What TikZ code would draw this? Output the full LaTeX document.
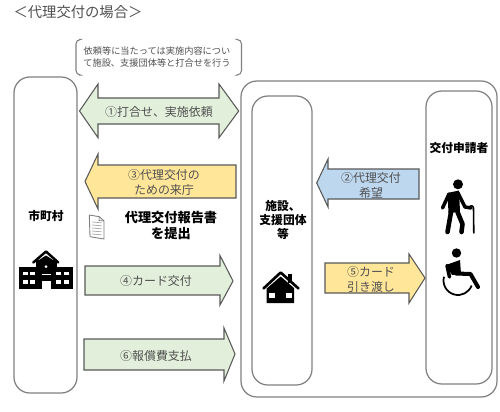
\documentclass[tikz,border=0pt]{standalone}
\usepackage{fontspec}
\setmainfont{Noto Sans CJK JP}
\usepackage{tikz}
\usetikzlibrary{arrows.meta,calc,positioning}

\definecolor{fatgreen}{HTML}{E2EFDA}
\definecolor{fatyellow}{HTML}{FFE699}
\definecolor{fatblue}{HTML}{BDD7EE}
\definecolor{boxgray}{HTML}{7F7F7F}
\definecolor{labelgray}{HTML}{505050}

\tikzset{
  roundbox/.style={draw=boxgray,line width=0.7pt,rounded corners=9pt},
  fatarrow/.style={draw=boxgray!70!black,line width=0.6pt,fill=#1},
  arrowlabel/.style={font=\fontsize{6.8}{8.6}\selectfont,text=labelgray,align=center,inner sep=0pt},
  boldlabel/.style={font=\fontsize{6.7}{8}\selectfont\bfseries,align=center,inner sep=0pt},
  bracketline/.style={boxgray,line width=0.6pt,rounded corners=2.5pt},
  iconline/.style={black,line width=#1,line cap=round,line join=round},
}

\begin{document}
\begin{tikzpicture}[x=0.02cm,y=-0.02cm]
\useasboundingbox (0,0) rectangle (500,412);

% Boxes
\draw[roundbox] (14,77) rectangle (77,393);
\draw[roundbox] (241,81) rectangle (497,397);
\draw[roundbox] (252,96) rectangle (312,385);
\draw[roundbox] (426,91) rectangle (492,384);

% Title and bracket
\node[font=\fontsize{8.15}{10}\selectfont,text=labelgray,inner sep=0pt] (title) at (78,12) {＜代理交付の場合＞};
\draw[bracketline] (79,39.5) -- (76,39.5) -- (76,75) -- (79,75);
\draw[bracketline] (238,39.5) -- (241.5,39.5) -- (241.5,75) -- (238,75);
\node[font=\fontsize{5.24}{6.6}\selectfont,text=labelgray,align=center,inner sep=0pt] (note) at (157,57)
  {依頼等に当たっては実施内容につい\\て施設、支援団体等と打合せを行う};

% Arrows
\draw[fatarrow=fatgreen] (79.5,111) -- (98,84) -- (98,98) -- (219,98) -- (219,84) -- (238.7,111)
  -- (219,137.7) -- (219,124) -- (98,124) -- (98,137.7) -- cycle;
\draw[fatarrow=fatyellow] (85,181.5) -- (98,154) -- (98,165) -- (236,165) -- (236,198) -- (98,198) -- (98,209) -- cycle;
\draw[fatarrow=fatblue] (316.7,183) -- (328,159) -- (328,169) -- (419,169) -- (419,199) -- (328,199) -- (328,207) -- cycle;
\draw[fatarrow=fatgreen] (85,266) -- (220,266) -- (220,255.5) -- (233,281) -- (220,305) -- (220,295) -- (85,295) -- cycle;
\draw[fatarrow=fatgreen] (84,339) -- (224,339) -- (224,328) -- (235,354) -- (224,381) -- (224,370) -- (84,370) -- cycle;
\draw[fatarrow=fatyellow] (325,263) -- (409,263) -- (409,254) -- (425,278) -- (409,303) -- (409,293) -- (325,293) -- cycle;

% Arrow labels
\node[arrowlabel] (meeting) at (159,112) {①打合せ、実施依頼};
\node[arrowlabel] (visit) at (164,182.5) {③代理交付の\\ ための来庁};
\node[arrowlabel] (request) at (371,185) {②代理交付\\ 希望};
\node[arrowlabel] (card) at (156,281) {④カード交付};
\node[arrowlabel] (handover) at (371,279) {⑤カード\\ 引き渡し};
\node[arrowlabel] (payment) at (156,356) {⑥報償費支払};

% Bold labels
\node[boldlabel] (city) at (46,216) {市町村};
\node[boldlabel] (applicant) at (459,148) {交付申請者};
\node[boldlabel] (facility) at (283,220) {施設、\\ 支援団体\\ 等};
\node[boldlabel,font=\fontsize{7.5}{8.6}\selectfont\bfseries] (report) at (171,225.5) {代理交付報告書\\ を提出};

% Document
\draw[boxgray,line width=0.5pt,fill=white,line join=round] (89.3,215) -- (99.3,216.7) -- (104,221) -- (104,239) -- (90,236.7) -- cycle;
\draw[boxgray,line width=0.4pt] (99.3,216.7) -- (99,220.5) -- (104,221);
\foreach \y in {222,225,228,231,234}
  \draw[gray!70,line width=0.4pt] (92,\y) -- (101.5,\y+0.8);

% School
\fill (19.3,267) rectangle (72.7,288.7);
\fill (35.7,260) rectangle (56.7,288.7);
\fill (46,255.5) -- (36.5,261.5) -- (55.5,261.5) -- cycle;
\draw[iconline=1.4pt] (33.3,262.5) -- (46,251.5) -- (58.3,262.5);
\foreach \x in {22.7,29.7,56,63.5}
  \foreach \y in {271.7,280}
    \fill[white] (\x,\y) rectangle (\x+5,\y+3.6);
\fill[white] (41.7,274) rectangle (50.7,275);
\fill[white] (41.7,281) rectangle (50.7,288.7);
\fill[white] (46,266.5) circle (1.5);

% House
\fill (280.7,276.5) -- (294,288) -- (294,303) -- (266.7,303) -- (266.7,288.5) -- cycle;
\fill (287.7,274) rectangle (291.7,283);
\draw[iconline=1.5pt] (263.5,288.5) -- (280.7,272.5) -- (298.5,288.5);
\fill[white] (269.3,293.3) rectangle (275,297.7);
\fill[white] (286,293.3) rectangle (291.7,297.7);

% Walking person
\fill (458,184.3) circle (5);
\fill (447.5,193) -- (459,190.5) -- (460,212) -- (448.5,213) -- cycle;
\draw[iconline=2pt] (449,194) -- (442.5,208);
\draw[iconline=2pt] (458,193) -- (465,207) -- (471,208);
\draw[iconline=2.6pt] (451,212) -- (447.5,232);
\draw[iconline=2.6pt] (457.5,212) -- (462.5,224) -- (461.5,232);
\draw[iconline=0.9pt] (469,208) .. controls (470,205) and (473,205) .. (473.5,208) -- (473.8,233);

% Wheelchair
\fill (456.5,253) circle (4.7);
\fill (446,265) -- (460,260) -- (461,274) -- (452,275) -- cycle;
\draw[iconline=2pt] (447,265.5) -- (449.5,277);
\draw[iconline=2.3pt] (456,273.5) -- (470.5,274) -- (478,287);
\draw[black,line width=1pt] (444,276.75) arc[start angle=195,end angle=20,radius=14.5];
\end{tikzpicture}
\end{document}
